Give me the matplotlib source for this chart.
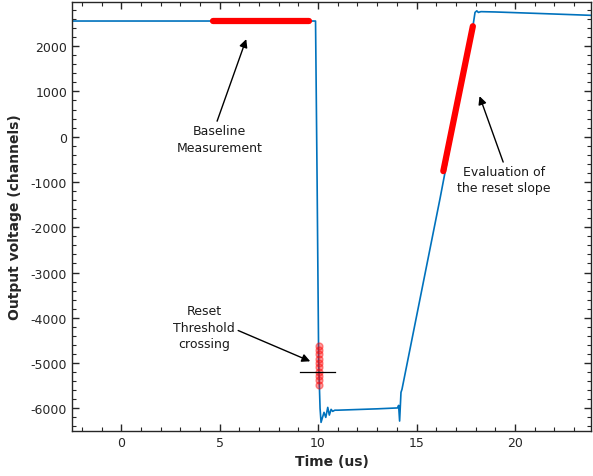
import matplotlib
matplotlib.use("Agg")
import matplotlib.pyplot as plt
from matplotlib.ticker import MultipleLocator

# ---- waveform vertices (time in us, output in ADC channels) ----
t_us = [-2.5, 9.87, 9.95, 10.03, 10.1, 10.15, 10.30, 10.39, 10.49, 10.57,
        10.66, 10.74, 10.85, 11.0, 12.0, 13.0, 14.04, 14.09, 14.14, 14.21,
        14.26, 16.2, 17.88, 17.97, 18.06, 18.14, 18.27, 19.0, 21.0, 23.9]
v_ch = [2555, 2555, -1000, -5000, -6000, -6309, -6088, -6199, -5978, -6148,
        -6022, -6066, -6040, -6040, -6025, -6010, -5990, -5934, -6280, -5646,
        -5580, -1350, 2486, 2745, 2780, 2745, 2762, 2755, 2725, 2680]

# baseline window
base_t = [4.67, 9.56]
base_v = [2560, 2560]

# samples around the threshold crossing
cross_t = [10.03] * 10
cross_v = [-4620, -4715, -4810, -4905, -5000, -5095, -5190, -5285, -5380, -5475]
threshold = -5200
thr_t = [9.1, 10.85]

# reset slope fit window
slope_t = [16.36, 17.86]
slope_v = [-760, 2440]

plt.rcParams['axes.unicode_minus'] = False
plt.rcParams['font.family'] = 'DejaVu Sans'

fig = plt.figure(figsize=(5.93, 4.77), dpi=100)
ax = fig.add_axes([0.1214, 0.0943, 0.8752, 0.8994])

ax.plot(t_us, v_ch, color='#0072BD', lw=1.2, zorder=2)
ax.plot(base_t, base_v, color='red', lw=4.5, solid_capstyle='round', zorder=3)
ax.plot(slope_t, slope_v, color='red', lw=4.5, solid_capstyle='round', zorder=3)
ax.plot(cross_t, cross_v, 'o', ms=5, color='red', alpha=0.4, mec='red', zorder=3)
ax.plot(thr_t, [threshold, threshold], color='black', lw=0.9, zorder=4)

arrow = dict(arrowstyle='-|>', color='black', lw=1.0, mutation_scale=12,
             shrinkA=0, shrinkB=0)
txt = dict(fontsize=9, color='#1a1a1a', ha='center', va='center', linespacing=1.35)
ax.annotate('', xy=(6.35, 2155), xytext=(4.87, 343), arrowprops=arrow)
ax.text(5.0, -50, 'Baseline\nMeasurement', **txt)
ax.annotate('', xy=(9.6, -4960), xytext=(5.94, -4280), arrowprops=arrow)
ax.text(4.2, -4210, 'Reset\nThreshold\ncrossing', **txt)
ax.annotate('', xy=(18.2, 895), xytext=(19.4, -560), arrowprops=arrow)
ax.text(19.45, -940, 'Evaluation of\nthe reset slope', **txt)

ax.set_xlim(-2.5, 23.86)
ax.set_ylim(-6500, 2975)
ax.xaxis.set_major_locator(MultipleLocator(5))
ax.xaxis.set_minor_locator(MultipleLocator(1))
ax.yaxis.set_major_locator(MultipleLocator(1000))
ax.yaxis.set_minor_locator(MultipleLocator(200))
ax.tick_params(which='both', direction='in', top=True, right=True,
               labelsize=9, labelcolor='#262626', color='#262626')
ax.tick_params(which='major', length=5, width=1.0)
ax.tick_params(which='minor', length=3, width=0.8)
for s in ax.spines.values():
    s.set_color('#262626')
    s.set_linewidth(1.0)

ax.set_xlabel('Time (us)', fontsize=10, fontweight='bold', color='#262626', labelpad=4)
ax.set_ylabel('Output voltage (channels)', fontsize=10, fontweight='bold',
              color='#262626', labelpad=6)

fig.savefig('out.png', dpi=100)
